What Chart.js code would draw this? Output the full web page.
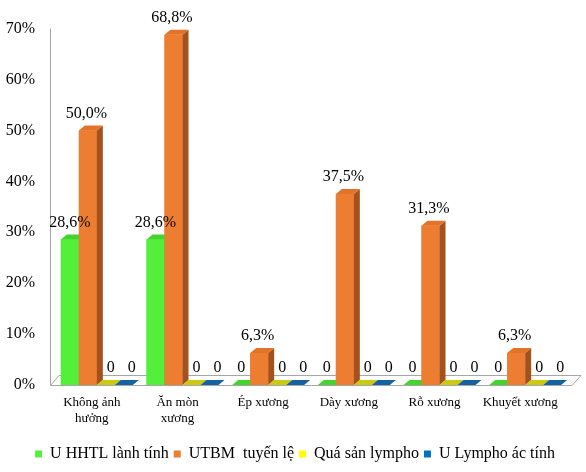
<!DOCTYPE html>
<html><head><meta charset="utf-8">
<script src="https://cdn.jsdelivr.net/npm/chart.js@4.4.0/dist/chart.umd.min.js"></script>
<style>html,body{margin:0;padding:0;background:#fff}#wrap{width:586px;height:472px}</style>
</head><body><div id="wrap"><canvas id="c" width="586" height="472"></canvas></div>
<script>
const categories = [["Không ảnh","hưởng"],["Ăn mòn","xương"],"Ép xương","Dày xương","Rỗ xương","Khuyết xương"];
const seriesNames = ["U HHTL lành tính","UTBM  tuyến lệ","Quá sản lympho","U Lympho ác tính"];
const benignValues = [28.6,28.6,0,0,0,0];
const adenocarcinomaValues = [50.0,68.8,6.3,37.5,31.3,6.3];
const hyperplasiaValues = [0,0,0,0,0,0];
const lymphomaValues = [0,0,0,0,0,0];
const yMax = 70;
const yStep = 10;

const FRONT = ['#52F03A','#ED7D31','#FFFF00','#0070C0'];
const SIDE  = ['#3AB828','#A4511E','#B8B800','#004F88'];
const TOP   = ['#44D42E','#E27329','#CACA10','#1562A3'];
const LABEL_DX = [0,-1.5,5,8];
const DX = 6, DY = 5;
const SERIF = '"Liberation Serif","Times New Roman",serif';

const allValues = [benignValues, adenocarcinomaValues, hyperplasiaValues, lymphomaValues];

function fmt(v){ return v === 0 ? '0' : v.toFixed(1).replace('.', ',') + '%'; }

const threeD = {
  id: 'threeD',
  afterLayout(chart){
    if (chart.legend) { chart.legend.left += 11; chart.legend.right += 11; }
  },
  beforeDatasetsDraw(chart){
    const ctx = chart.ctx, ca = chart.chartArea;
    const base = chart.scales.y.getPixelForValue(0);
    ctx.save();
    ctx.strokeStyle = '#A6A6A6';
    ctx.lineWidth = 1;
    ctx.beginPath();
    ctx.moveTo(50.5, ca.top);
    ctx.lineTo(50.5, base + 0.5);
    ctx.lineTo(572, base + 0.5);
    ctx.lineTo(581, base - 9.5);
    ctx.lineTo(59, base - 9.5);
    ctx.lineTo(50.5, base + 0.5);
    ctx.stroke();
    ctx.restore();
  },
  afterDatasetsDraw(chart){
    const ctx = chart.ctx;
    const n = chart.data.labels.length;
    ctx.save();
    for (let i = 0; i < n; i++) {
      for (let d = 0; d < chart.data.datasets.length; d++) {
        const el = chart.getDatasetMeta(d).data[i];
        const v = chart.data.datasets[d].data[i];
        const w = el.width, l = el.x - w/2, r = el.x + w/2;
        const top = el.y, base = el.base;
        if (v > 0) {
          ctx.fillStyle = FRONT[d];
          ctx.fillRect(l, top, w, base - top);
          ctx.fillStyle = SIDE[d];
          ctx.beginPath();
          ctx.moveTo(r, top); ctx.lineTo(r + DX, top - DY); ctx.lineTo(r + DX, base - DY); ctx.lineTo(r, base);
          ctx.closePath(); ctx.fill();
        }
        ctx.fillStyle = TOP[d];
        ctx.beginPath();
        ctx.moveTo(l, top); ctx.lineTo(l + DX, top - DY); ctx.lineTo(r + DX, top - DY); ctx.lineTo(r, top);
        ctx.closePath(); ctx.fill();
      }
    }
    ctx.fillStyle = '#000';
    ctx.font = '16px ' + SERIF;
    ctx.textAlign = 'center';
    ctx.textBaseline = 'bottom';
    for (let d = 0; d < chart.data.datasets.length; d++) {
      const meta = chart.getDatasetMeta(d);
      meta.data.forEach((el, i) => {
        const v = chart.data.datasets[d].data[i];
        ctx.fillText(fmt(v), el.x + LABEL_DX[d], el.y - DY - 4);
      });
    }
    ctx.restore();
  }
};

new Chart(document.getElementById('c'), {
  type: 'bar',
  data: {
    labels: categories,
    datasets: seriesNames.map((name, k) => ({
      label: name,
      data: allValues[k],
      backgroundColor: FRONT[k],
      borderWidth: 0,
      categoryPercentage: 0.84,
      barPercentage: 1.0
    }))
  },
  options: {
    responsive: false,
    devicePixelRatio: 1,
    animation: false,
    layout: { padding: { top: 27, right: 18, left: 0, bottom: 0 } },
    plugins: {
      legend: {
        position: 'bottom',
        labels: {
          font: { family: SERIF, size: 16 },
          color: '#000',
          boxWidth: 7, boxHeight: 7,
          padding: 5
        }
      },
      tooltip: { enabled: false }
    },
    scales: {
      x: {
        grid: { display: false, drawTicks: false },
        border: { display: false },
        ticks: { font: { family: SERIF, size: 13 }, color: '#000', maxRotation: 0, padding: 10, labelOffset: -5 },
        afterFit(s){ s.height = 56; }
      },
      y: {
        min: 0, max: yMax,
        grid: { display: false, drawTicks: false },
        border: { display: false },
        ticks: { stepSize: yStep, font: { family: SERIF, size: 16 }, color: '#000', padding: 19,
                 callback: v => v + '%' },
        afterFit(s){ s.width = 54; }
      }
    }
  },
  plugins: [threeD]
});
</script></body></html>
